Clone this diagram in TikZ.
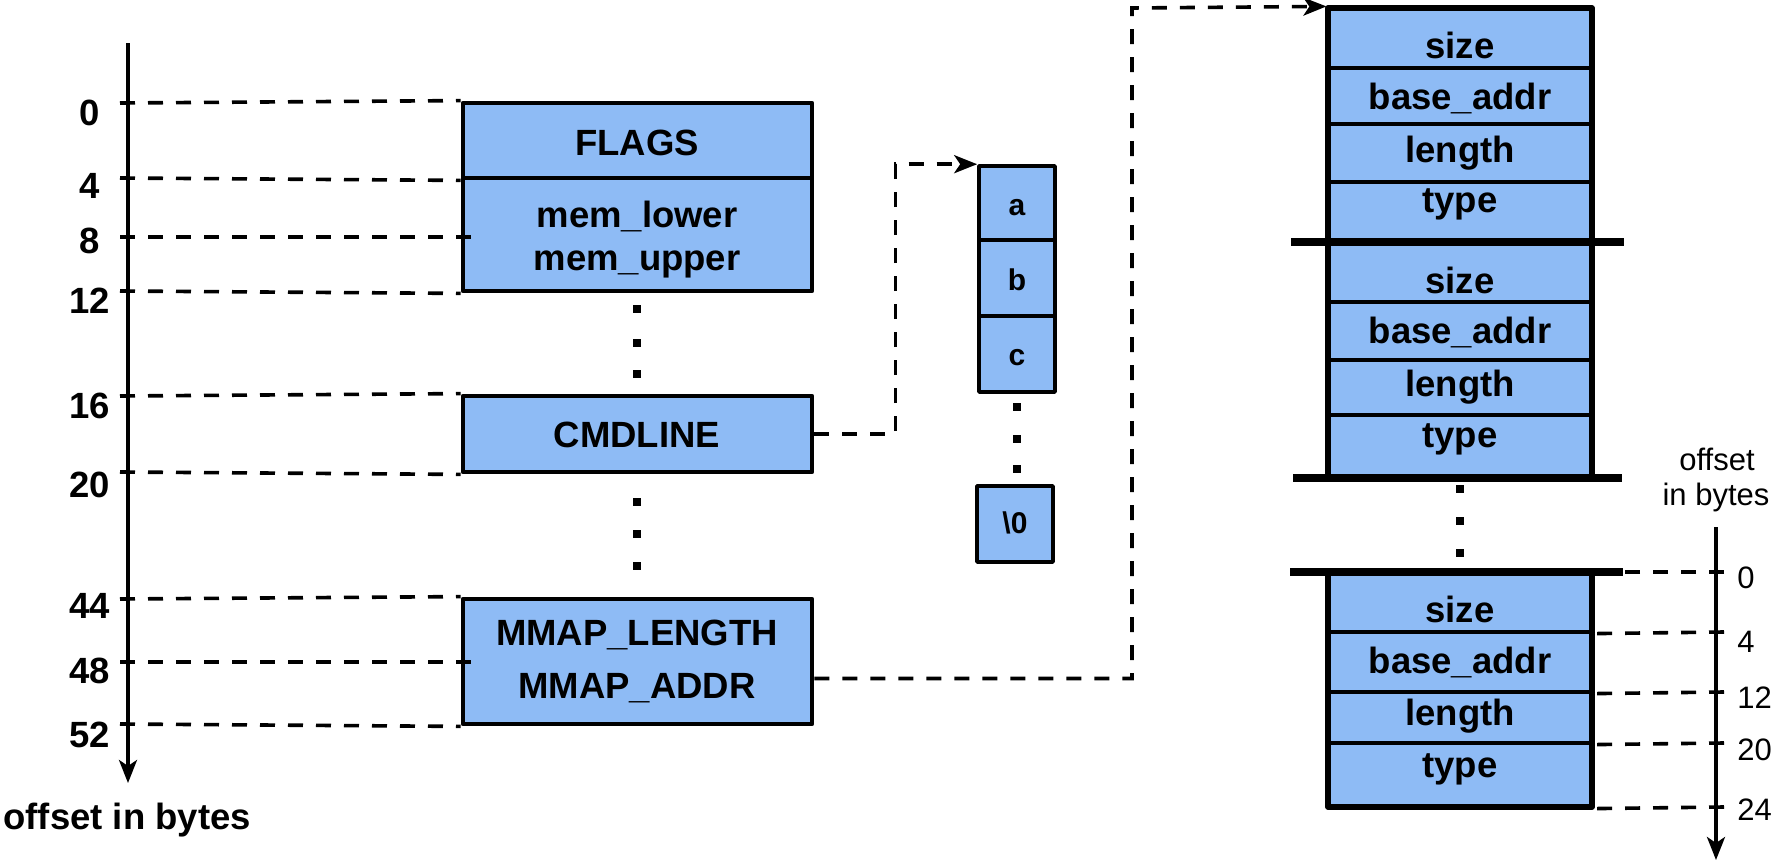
\documentclass[tikz,border=0pt]{standalone}
\usepackage{fontspec}
\setmainfont{Liberation Sans}
\usetikzlibrary{arrows.meta,fit,calc}
\definecolor{boxblue}{RGB}{142,187,245}
\begin{document}
\begin{tikzpicture}[x=0.5pt,y=-0.5pt,
  box/.style={draw, line width=2.4pt, fill=boxblue, inner sep=0pt, line join=round},
  row/.style={draw, line width=1.6pt, fill=boxblue, inner sep=0pt},
  strcell/.style={draw, line width=1.8pt, fill=boxblue, inner sep=0pt, line join=round},
  outerbox/.style={draw, line width=2.6pt, inner sep=0pt, line join=round},
  sepline/.style={line width=4pt},
  dashline/.style={line width=1.8pt, dash pattern=on 7.5pt off 6.5pt},
  conn/.style={dashline, -{Stealth[length=11.5pt,width=9pt,inset=3pt]}},
  axisline/.style={line width=1.8pt, -{Stealth[length=11.5pt,width=9pt,inset=3pt]}},
  boxtxt/.style={font=\fontsize{18.25pt}{22pt}\selectfont\bfseries, anchor=base, inner sep=0pt},
  celltxt/.style={font=\fontsize{15pt}{18pt}\selectfont\bfseries, anchor=base, inner sep=0pt},
  numtxt/.style={font=\fontsize{18.25pt}{22pt}\selectfont\bfseries, anchor=base, inner sep=0pt},
  offtxt/.style={font=\fontsize{15.5pt}{18pt}\selectfont, anchor=base west, inner sep=0pt},
  dot/.style={fill, inner sep=0pt, minimum size=4pt},
]
\useasboundingbox (0,0) rectangle (1774,862);

% ---------- left struct ----------
\node[box, fit={(463,103) (812,178)}] (flags) {};
\node[box, fit={(463,178) (812,291)}] (mem) {};
\node[box, fit={(463,396) (812,472)}] (cmd) {};
\node[box, fit={(463,599) (812,724)}] (mmap) {};

\node[boxtxt] (tflags) at (637,155) {FLAGS};
\node[boxtxt] (tlow) at (637,227) {mem\_lower};
\node[boxtxt] (tup) at (637,270) {mem\_upper};
\node[boxtxt] (tcmd) at (637,447) {CMDLINE};
\node[boxtxt] (tlen) at (637,645) {MMAP\_LENGTH};
\node[boxtxt] (tadr) at (637,698) {MMAP\_ADDR};

\node[dot] (d1) at (637,309) {};
\node[dot] (d2) at (637,343) {};
\node[dot] (d3) at (637,374) {};
\node[dot] (d4) at (637,502) {};
\node[dot] (d5) at (637,534) {};
\node[dot] (d6) at (637,566) {};

% left axis
\coordinate (lax0) at (128,43);
\coordinate (lax1) at (128,783);
\draw[axisline] (lax0) -- (lax1);
\coordinate (a0) at (120,103);
\coordinate (a4) at (120,178);
\coordinate (a8) at (120,237);
\coordinate (a12) at (120,291);
\coordinate (a16) at (120,396);
\coordinate (a20) at (120,472);
\coordinate (a44) at (120,599);
\coordinate (a48) at (120,662);
\coordinate (a52) at (120,724);
\draw[dashline] (a0) -- (flags.north west);
\draw[dashline] (a4) -- (flags.south west);
\draw[dashline] (a8) -- ++(352,0);
\draw[dashline] (a12) -- (mem.south west);
\draw[dashline] (a16) -- (cmd.north west);
\draw[dashline] (a20) -- (cmd.south west);
\draw[dashline] (a44) -- (mmap.north west);
\draw[dashline] (a48) -- ++(352,0);
\draw[dashline] (a52) -- (mmap.south west);

\node[numtxt] (n0) at (90,125) {0};
\node[numtxt] (n4) at (90,198) {4};
\node[numtxt] (n8) at (90,253) {8};
\node[numtxt] (n12) at (90,313) {12};
\node[numtxt] (n16) at (90,418) {16};
\node[numtxt] (n20) at (90,497) {20};
\node[numtxt] (n44) at (90,618) {44};
\node[numtxt] (n48) at (90,683) {48};
\node[numtxt] (n52) at (90,747) {52};
\node[numtxt, anchor=base west] (lofs) at (3,829) {offset in bytes};

% ---------- command line string ----------
\node[strcell, fit={(979,166) (1055,240)}] (ca) {};
\node[strcell, fit={(979,240) (1055,316)}] (cb) {};
\node[strcell, fit={(979,316) (1055,392)}] (cc) {};
\node[strcell, fit={(977,486) (1053,562)}] (cz) {};
\node[celltxt] (ta) at (1017,215) {a};
\node[celltxt] (tb) at (1017,290) {b};
\node[celltxt] (tc) at (1017,365) {c};
\node[celltxt] (tz) at (1015,533) {\textbackslash 0};
\node[dot] (e1) at (1017,407) {};
\node[dot] (e2) at (1017,439) {};
\node[dot] (e3) at (1017,469) {};

\draw[conn] (cmd.east) -- ++(81,0) |- (ca.north west);

% ---------- mmap entries ----------
\node[row, fit={(1328,8) (1592,68)}] (g1a) {};
\node[row, fit={(1328,68) (1592,124)}] (g1b) {};
\node[row, fit={(1328,124) (1592,182)}] (g1c) {};
\node[row, fit={(1328,182) (1592,242)}] (g1d) {};
\node[row, fit={(1328,242) (1592,302)}] (g2a) {};
\node[row, fit={(1328,302) (1592,360)}] (g2b) {};
\node[row, fit={(1328,360) (1592,415)}] (g2c) {};
\node[row, fit={(1328,415) (1592,478)}] (g2d) {};
\node[row, fit={(1328,572) (1592,632)}] (g3a) {};
\node[row, fit={(1328,632) (1592,692)}] (g3b) {};
\node[row, fit={(1328,692) (1592,743)}] (g3c) {};
\node[row, fit={(1328,743) (1592,807)}] (g3d) {};
\node[outerbox, fit={(1328,8) (1592,478)}] (grpA) {};
\node[outerbox, fit={(1328,572) (1592,807)}] (grpB) {};

\coordinate (s1l) at (1291,242);
\coordinate (s1r) at (1624,242);
\coordinate (s2l) at (1293,478);
\coordinate (s2r) at (1622,478);
\coordinate (s3l) at (1290,572);
\coordinate (s3r) at (1623,572);
\draw[sepline] (s1l) -- (s1r);
\draw[sepline] (s2l) -- (s2r);
\draw[sepline] (s3l) -- (s3r);

\node[boxtxt] (u1) at (1460,58) {size};
\node[boxtxt] (u2) at (1460,109) {base\_addr};
\node[boxtxt] (u3) at (1460,162) {length};
\node[boxtxt] (u4) at (1460,212) {type};
\node[boxtxt] (v1) at (1460,293) {size};
\node[boxtxt] (v2) at (1460,343) {base\_addr};
\node[boxtxt] (v3) at (1460,396) {length};
\node[boxtxt] (v4) at (1460,447) {type};
\node[boxtxt] (w1) at (1460,622) {size};
\node[boxtxt] (w2) at (1460,673) {base\_addr};
\node[boxtxt] (w3) at (1460,725) {length};
\node[boxtxt] (w4) at (1460,777) {type};

\node[dot] (f1) at (1460,489) {};
\node[dot] (f2) at (1460,521) {};
\node[dot] (f3) at (1460,553) {};

\coordinate (mbend) at (1132,8);
\draw[conn] ([yshift=-8.5pt]mmap.east) -| (mbend) -- (g1a.north west);

% right axis
\coordinate (rax0) at (1716,527);
\coordinate (rax1) at (1716,860);
\draw[axisline] (rax0) -- (rax1);
\coordinate (r0) at (1724,572);
\coordinate (r4) at (1724,632);
\coordinate (r12) at (1724,692);
\coordinate (r20) at (1724,743);
\coordinate (r24) at (1724,807);
\draw[dashline] (r0) -- (s3r);
\draw[dashline] (r4) -- (g3a.south east);
\draw[dashline] (r12) -- (g3b.south east);
\draw[dashline] (r20) -- (g3c.south east);
\draw[dashline] (r24) -- (g3d.south east);

\node[offtxt] (m0) at (1737,588) {0};
\node[offtxt] (m4) at (1737,652) {4};
\node[offtxt] (m12) at (1737,708) {12};
\node[offtxt] (m20) at (1737,760) {20};
\node[offtxt] (m24) at (1737,820) {24};
\node[offtxt, anchor=base] (rofs1) at (1717,470) {offset};
\node[offtxt, anchor=base] (rofs2) at (1716,505) {in bytes};
\end{tikzpicture}
\end{document}
